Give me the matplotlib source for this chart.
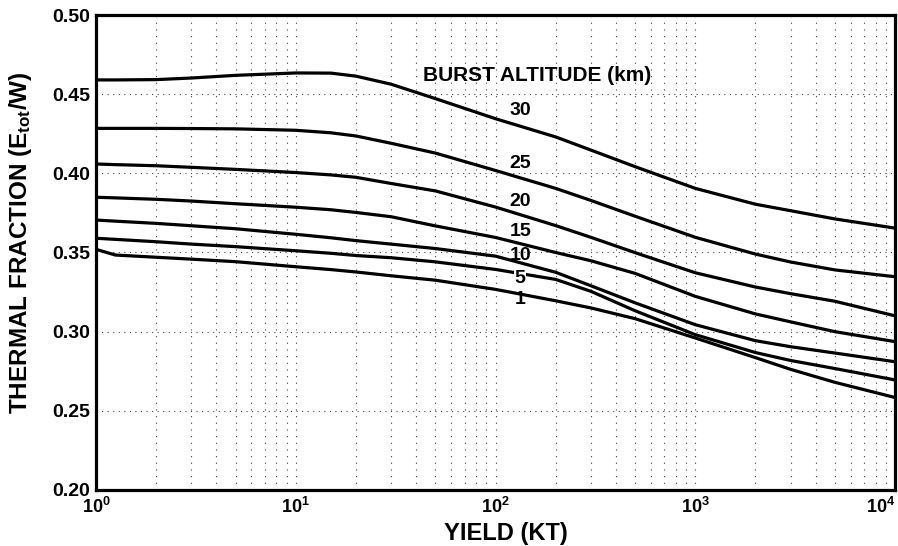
import numpy as np
import matplotlib
matplotlib.use("Agg")
import matplotlib.pyplot as plt
from matplotlib.ticker import FixedLocator, FixedFormatter, LogLocator, NullFormatter

plt.rcParams['font.family'] = ['Liberation Sans', 'DejaVu Sans']
plt.rcParams['font.weight'] = 'bold'
plt.rcParams['mathtext.fontset'] = 'custom'
plt.rcParams['mathtext.rm'] = 'Liberation Sans:bold'
plt.rcParams['mathtext.it'] = 'Liberation Sans:bold'
plt.rcParams['mathtext.bf'] = 'Liberation Sans:bold'
plt.rcParams['mathtext.default'] = 'rm'

# yield (KT)
yields = [1, 1.25, 2, 3, 5, 10, 15, 20, 30, 50, 100, 200, 300, 500, 1000, 2000, 3000, 5000, 10000]

# thermal fraction for each burst altitude (km)
alt_30 = [0.459, 0.459, 0.4592, 0.4602, 0.4619, 0.4634, 0.4633, 0.4614, 0.4563, 0.4472, 0.4345, 0.423,
          0.4147, 0.4042, 0.3905, 0.3805, 0.3764, 0.3712, 0.3654]
alt_25 = [0.4284, 0.4284, 0.4284, 0.4283, 0.4281, 0.4272, 0.4256, 0.4236, 0.419, 0.4128, 0.4018, 0.3905,
          0.3829, 0.3729, 0.3596, 0.349, 0.344, 0.339, 0.3347]
alt_20 = [0.4059, 0.4055, 0.4048, 0.4038, 0.4025, 0.4005, 0.399, 0.3975, 0.3936, 0.3889, 0.3787, 0.367,
          0.3596, 0.3499, 0.3372, 0.3282, 0.324, 0.3192, 0.31]
alt_15 = [0.3849, 0.3845, 0.3836, 0.3825, 0.3808, 0.3786, 0.377, 0.3753, 0.3726, 0.3668, 0.3595, 0.35,
          0.3448, 0.3368, 0.3223, 0.3112, 0.3062, 0.3, 0.2937]
alt_10 = [0.3705, 0.3698, 0.3684, 0.3669, 0.365, 0.3615, 0.3593, 0.3575, 0.3553, 0.3525, 0.3477, 0.3375,
          0.329, 0.3182, 0.3044, 0.2943, 0.2905, 0.2865, 0.281]
alt_5 = [0.359, 0.3583, 0.3568, 0.3553, 0.3537, 0.3511, 0.3495, 0.3481, 0.3467, 0.3441, 0.3393, 0.333,
         0.3255, 0.3132, 0.2981, 0.2868, 0.2818, 0.2767, 0.2695]
alt_1 = [0.352, 0.3484, 0.347, 0.3458, 0.3442, 0.341, 0.3392, 0.3377, 0.3353, 0.3325, 0.3267, 0.3195,
         0.315, 0.3082, 0.296, 0.2836, 0.2762, 0.268, 0.2584]

curves = [("30", alt_30), ("25", alt_25), ("20", alt_20), ("15", alt_15),
          ("10", alt_10), ("5", alt_5), ("1", alt_1)]

# where the altitude numbers sit (data units)
label_x = 133
label_y = [0.440, 0.4063, 0.382, 0.3631, 0.3484, 0.3337, 0.320]

x_ticks = [1, 10, 100, 1000, 10000]
x_tick_labels = ["10$^{0}$", "10$^{1}$", "10$^{2}$", "10$^{3}$", "10$^{4}$"]
y_ticks = [0.20, 0.25, 0.30, 0.35, 0.40, 0.45, 0.50]
y_tick_labels = ["0.20", "0.25", "0.30", "0.35", "0.40", "0.45", "0.50"]

fig = plt.figure(figsize=(8.98, 5.46), dpi=100)
ax = fig.add_axes([0.1069, 0.1026, 0.8898, 0.8699])

for name, vals in curves:
    ax.plot(yields, vals, color='black', linewidth=2.3, solid_joinstyle='round')

for (name, vals), ly in zip(curves, label_y):
    bbox = None
    if name == "5":
        bbox = dict(facecolor='white', edgecolor='none', pad=0.3)
    ax.text(label_x, ly, name, fontsize=14, fontweight='bold',
            ha='center', va='center', bbox=bbox)

ax.text(161, 0.4615, "BURST ALTITUDE (km)", fontsize=15, fontweight='bold',
        ha='center', va='center')

ax.set_xscale('log')
ax.set_xlim(1, 10000)
ax.set_ylim(0.20, 0.50)

ax.xaxis.set_major_locator(FixedLocator(x_ticks))
ax.xaxis.set_major_formatter(FixedFormatter(x_tick_labels))
ax.xaxis.set_minor_locator(LogLocator(base=10, subs=np.arange(2, 10)))
ax.xaxis.set_minor_formatter(NullFormatter())
ax.yaxis.set_major_locator(FixedLocator(y_ticks))
ax.yaxis.set_major_formatter(FixedFormatter(y_tick_labels))

ax.tick_params(axis='both', which='both', length=0)
ax.tick_params(axis='x', labelsize=13, pad=5)
ax.tick_params(axis='y', labelsize=14, pad=4)
xt = ax.get_xticklabels()
xt[-1].set_horizontalalignment('right')

ax.grid(True, which='both', axis='x', color='#444444', linestyle=(0, (1, 5)), linewidth=0.8)
ax.grid(True, which='major', axis='y', color='#444444', linestyle=(0, (1, 4)), linewidth=0.8)

for sp in ax.spines.values():
    sp.set_linewidth(2.3)

ax.set_xlabel("YIELD (KT)", fontsize=17, fontweight='bold')
ax.xaxis.set_label_coords(0.513, -0.092)
ax.xaxis.label.set_verticalalignment('center')
ax.set_ylabel("THERMAL FRACTION (E$_{tot}$/W)", fontsize=17.5, fontweight='bold')
ax.yaxis.set_label_coords(-0.095, 0.52)
ax.yaxis.label.set_verticalalignment('center')

fig.savefig("out.png", dpi=100)
